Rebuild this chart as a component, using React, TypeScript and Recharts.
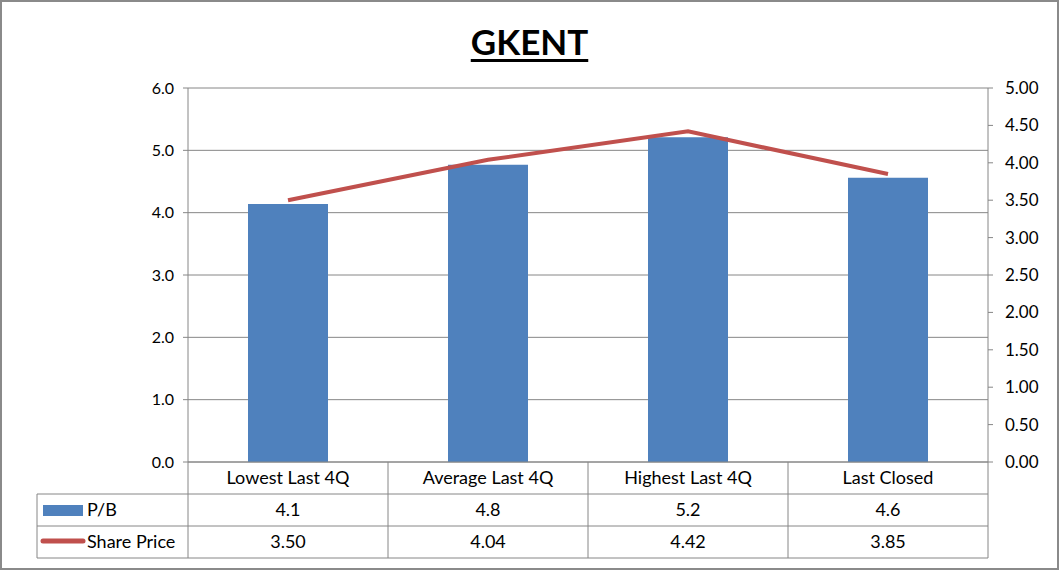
import {
  Bar,
  CartesianGrid,
  ComposedChart,
  Customized,
  Line,
  XAxis,
  YAxis,
} from "recharts";

const categories = ["Lowest Last 4Q", "Average Last 4Q", "Highest Last 4Q", "Last Closed"];
const pbValues = [4.14, 4.77, 5.21, 4.56];
const sharePrices = [3.5, 4.04, 4.42, 3.85];
const leftTicks = [0, 1, 2, 3, 4, 5, 6];
const rightTicks = [0, 0.5, 1, 1.5, 2, 2.5, 3, 3.5, 4, 4.5, 5];

const data = categories.map((name, i) => ({
  name,
  pb: pbValues[i],
  price: sharePrices[i],
}));

const W = 1059;
const H = 570;
const PLOT_LEFT = 188;
const PLOT_RIGHT = 988;
const PLOT_TOP = 88;
const PLOT_BOTTOM = 462;
const ROW_H = 32;
const TABLE_LEFT = 37;
const GRID = "#868686";
const BLUE = "#4F81BD";
const RED = "#C0504D";
const FONT = "Lato, 'Liberation Sans', sans-serif";
const TABLE_FS = 18;

function TableTick(props: any) {
  const { x, payload } = props;
  const i = payload.index;
  const half = (PLOT_RIGHT - PLOT_LEFT) / categories.length / 2;
  const last = i === categories.length - 1;
  return (
    <g>
      <line x1={x - half} x2={x - half} y1={PLOT_BOTTOM} y2={PLOT_BOTTOM + ROW_H * 3} stroke={GRID} />
      {last && (
        <line x1={x + half} x2={x + half} y1={PLOT_BOTTOM} y2={PLOT_BOTTOM + ROW_H * 3} stroke={GRID} />
      )}
      <text x={x} y={PLOT_BOTTOM + ROW_H / 2 + 6} textAnchor="middle" fontSize={TABLE_FS} fill="#000" fontFamily={FONT}>
        {categories[i]}
      </text>
      <text x={x} y={PLOT_BOTTOM + ROW_H * 1.5 + 6} textAnchor="middle" fontSize={TABLE_FS} fill="#000" fontFamily={FONT}>
        {pbValues[i].toFixed(1)}
      </text>
      <text x={x} y={PLOT_BOTTOM + ROW_H * 2.5 + 6} textAnchor="middle" fontSize={TABLE_FS} fill="#000" fontFamily={FONT}>
        {sharePrices[i].toFixed(2)}
      </text>
    </g>
  );
}

function TableFrame() {
  const r1 = PLOT_BOTTOM + ROW_H;
  const r2 = PLOT_BOTTOM + ROW_H * 2;
  const r3 = PLOT_BOTTOM + ROW_H * 3;
  return (
    <g>
      <line x1={TABLE_LEFT} x2={PLOT_RIGHT} y1={r1} y2={r1} stroke={GRID} />
      <line x1={TABLE_LEFT} x2={PLOT_RIGHT} y1={r2} y2={r2} stroke={GRID} />
      <line x1={TABLE_LEFT} x2={PLOT_RIGHT} y1={r3} y2={r3} stroke={GRID} />
      <line x1={TABLE_LEFT} x2={TABLE_LEFT} y1={r1} y2={r3} stroke={GRID} />
      <rect x={43} y={r1 + 11} width={40} height={11} fill={BLUE} />
      <text x={87} y={r1 + 22} fontSize={TABLE_FS} fill="#000" fontFamily={FONT}>P/B</text>
      <line x1={43} x2={83} y1={r2 + 15} y2={r2 + 15} stroke={RED} strokeWidth={5} strokeLinecap="round" />
      <text x={87} y={r2 + 22} fontSize={TABLE_FS} fill="#000" fontFamily={FONT}>Share Price</text>
    </g>
  );
}

export default function App() {
  return (
    <div style={{ position: "absolute", left: 0, top: 0, width: W, height: H, background: "#fff" }}>
      <div
        style={{
          position: "absolute",
          left: 0,
          top: 20,
          width: W,
          textAlign: "center",
          fontFamily: FONT,
          fontWeight: 700,
          fontSize: 35,
          textDecoration: "underline",
          textDecorationThickness: 3,
          textUnderlineOffset: 4,
          color: "#000",
        }}
      >
        GKENT
      </div>
      <ComposedChart
        width={W}
        height={H}
        data={data}
        margin={{ top: PLOT_TOP, right: 0, bottom: 0, left: 0 }}
        style={{ position: "absolute", left: 0, top: 0 }}
      >
        <CartesianGrid vertical={false} stroke={GRID} yAxisId="left" />
        <XAxis
          dataKey="name"
          height={H - PLOT_BOTTOM}
          axisLine={{ stroke: GRID }}
          tickLine={false}
          interval={0}
          tick={<TableTick />}
        />
        <YAxis
          yAxisId="left"
          orientation="left"
          width={PLOT_LEFT}
          domain={[0, 6]}
          ticks={leftTicks}
          tickFormatter={(v: number) => v.toFixed(1)}
          axisLine={{ stroke: GRID }}
          tickLine={{ stroke: GRID }}
          tickSize={5}
          tickMargin={9}
          tick={{ fill: "#000", fontSize: 16, fontFamily: FONT }}
        />
        <YAxis
          yAxisId="right"
          orientation="right"
          width={W - PLOT_RIGHT}
          domain={[0, 5]}
          ticks={rightTicks}
          tickFormatter={(v: number) => v.toFixed(2)}
          axisLine={{ stroke: GRID }}
          tickLine={{ stroke: GRID }}
          tickSize={5}
          tickMargin={12}
          tick={{ fill: "#000", fontSize: 17, fontFamily: FONT }}
        />
        <Bar yAxisId="left" dataKey="pb" fill={BLUE} barSize={80} isAnimationActive={false} />
        <Line
          yAxisId="right"
          dataKey="price"
          type="linear"
          stroke={RED}
          strokeWidth={4}
          dot={false}
          isAnimationActive={false}
        />
        <Customized component={TableFrame} />
      </ComposedChart>
      <div
        style={{
          position: "absolute",
          left: 0,
          top: 0,
          width: W,
          height: H,
          boxSizing: "border-box",
          border: "2px solid #8a8a8a",
          pointerEvents: "none",
        }}
      />
    </div>
  );
}
